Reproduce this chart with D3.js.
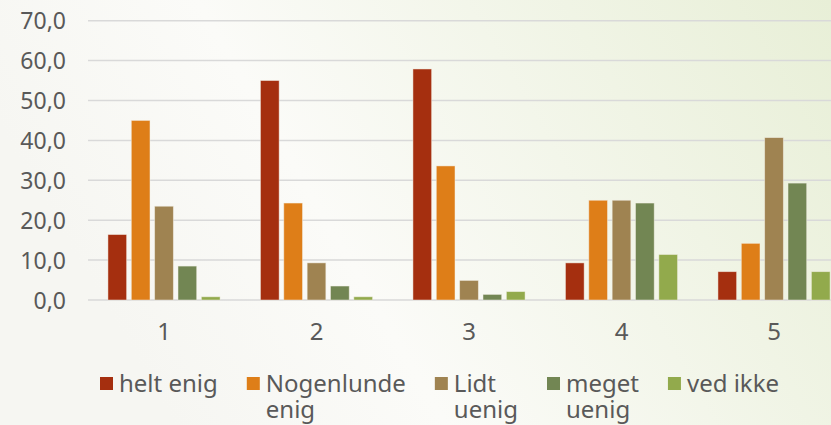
<html>
<head>
<title>Enighed</title>
<script src="https://d3js.org/d3.v7.min.js"></script>
</head>
<style>
  body { margin: 0; overflow: hidden; }
  text { font-family: "Noto Sans", sans-serif; fill: #595959; }
</style>
<body>

<svg id="chart_svg" width="831" height="425"></svg>

<script>
// data
var categories = ["1", "2", "3", "4", "5"];
var seriesNames = ["helt enig", "Nogenlunde enig", "Lidt uenig", "meget uenig", "ved ikke"];
var legendLines = [["helt enig"], ["Nogenlunde", "enig"], ["Lidt", "uenig"], ["meget", "uenig"], ["ved ikke"]];
var seriesColors = ["#A52F0F", "#DE7E18", "#9F8351", "#728653", "#92AA4C"];
var heltEnig   = [16.4, 55.0, 57.9, 9.3, 7.1];
var nogenlunde = [45.0, 24.3, 33.6, 25.0, 14.2];
var lidtUenig  = [23.5, 9.3, 4.9, 25.0, 40.7];
var megetUenig = [8.5, 3.5, 1.4, 24.3, 29.3];
var vedIkke    = [0.8, 0.8, 2.1, 11.4, 7.1];
var yTicks = [0, 10, 20, 30, 40, 50, 60, 70];

var series = [heltEnig, nogenlunde, lidtUenig, megetUenig, vedIkke];

var svg = d3.select("#chart_svg");

// background gradient
var defs = svg.append("defs");
var grad = defs.append("linearGradient")
  .attr("id", "bg").attr("x1", "0").attr("y1", "0.3").attr("x2", "1").attr("y2", "0");
grad.append("stop").attr("offset", "0%").attr("stop-color", "#f6f6f2");
grad.append("stop").attr("offset", "30%").attr("stop-color", "#fbfbf8");
grad.append("stop").attr("offset", "100%").attr("stop-color", "#e8efd7");
svg.append("rect").attr("width", 831).attr("height", 425).attr("fill", "url(#bg)");

// plot area runs past the right edge, like the cropped original
var x0 = d3.scaleBand().domain(categories).range([87.75, 850.25]).paddingInner(0).paddingOuter(0);
var x1 = d3.scaleBand().domain(d3.range(series.length)).range([20.2, x0.bandwidth() - 20.2]).paddingInner(0.2);
var y = d3.scaleLinear().domain([0, 70]).range([300, 20.7]);

// gridlines
svg.append("g").selectAll("line")
  .data(yTicks)
  .enter().append("line")
  .attr("x1", 88).attr("x2", 831)
  .attr("y1", function (d) { return y(d); })
  .attr("y2", function (d) { return y(d); })
  .attr("stroke", "#d9d9d9")
  .attr("stroke-width", 1.5);

// y axis labels
var yAxis = d3.axisLeft(y).tickValues(yTicks).tickSize(0).tickPadding(0)
  .tickFormat(function (d) { return d3.format(".1f")(d).replace(".", ","); });
var gy = svg.append("g").attr("transform", "translate(66,0)").call(yAxis);
gy.select(".domain").remove();
gy.selectAll("text").style("font-size", "23px").attr("fill", "#595959").attr("dy", "0.36em");

// bars
var groups = svg.append("g").selectAll("g")
  .data(categories)
  .enter().append("g")
  .attr("transform", function (d) { return "translate(" + x0(d) + ",0)"; });

groups.selectAll("rect")
  .data(function (d, i) { return series.map(function (s, j) { return { s: j, v: s[i] }; }); })
  .enter().append("rect")
  .attr("x", function (d) { return x1(d.s); })
  .attr("width", x1.bandwidth())
  .attr("y", function (d) { return y(d.v); })
  .attr("height", function (d) { return y(0) - y(d.v); })
  .attr("fill", function (d) { return seriesColors[d.s]; })
  .attr("stroke", "#f3f0e6")
  .attr("stroke-opacity", 0.6)
  .attr("stroke-width", 0.8);

// x axis labels
var xAxis = d3.axisBottom(x0).tickSize(0).tickPadding(0);
var gx = svg.append("g").attr("transform", "translate(0,331)").call(xAxis);
gx.select(".domain").remove();
gx.selectAll("text").style("font-size", "24px").attr("fill", "#595959").attr("dy", "0.36em");

// legend
var legend = svg.append("g");
var lx = 100;
seriesNames.forEach(function (name, i) {
  var item = legend.append("g").attr("transform", "translate(" + lx + ",0)");
  item.append("rect")
    .attr("x", 0).attr("y", 377).attr("width", 13).attr("height", 13)
    .attr("fill", seriesColors[i]);
  var w = 0;
  legendLines[i].forEach(function (line, k) {
    var t = item.append("text")
      .style("font-size", "24px")
      .attr("x", 19).attr("y", 391.5 + k * 26.5)
      .text(line);
    w = Math.max(w, t.node().getComputedTextLength());
  });
  lx += 19 + w + 29;
});
</script>

</body>
</html>
